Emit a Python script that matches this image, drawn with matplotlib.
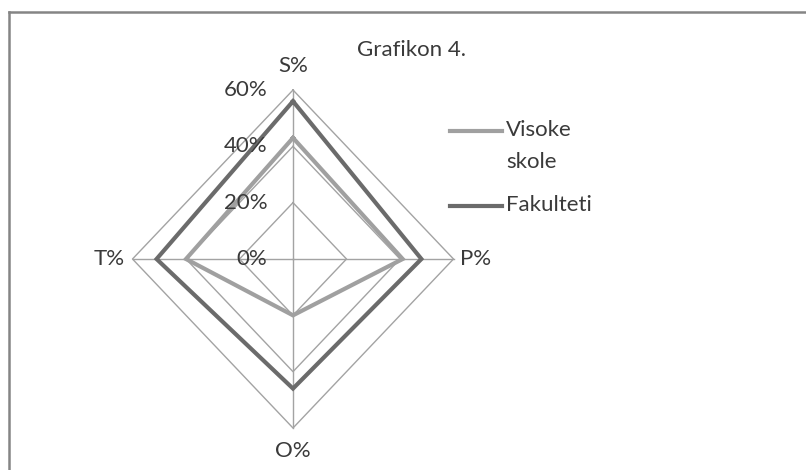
import matplotlib.pyplot as plt
from matplotlib.lines import Line2D

# data (percent)
axes_labels = ["S%", "P%", "O%", "T%"]
visoke_skole = [43, 41, 20, 40]
fakulteti = [56, 48, 46, 51]
grid_levels = [0, 20, 40, 60]
tick_labels = ["0%", "20%", "40%", "60%"]

# direction of each spoke: S up, P right, O down, T left
directions = [(0, 1), (1, 0), (0, -1), (-1, 0)]

GRID_COLOR = "#a3a3a3"
LIGHT = "#a0a0a0"
DARK = "#6b6b6b"
TEXT = "#3a3a3a"
FS = 16

plt.rcParams["font.family"] = ["Lato", "DejaVu Sans"]

W, H = 806, 470
fig = plt.figure(figsize=(W / 100, H / 100), dpi=100)

# center of the radar and radius (pixels) for 60%
cx, cy = 293, 259
rx, ry = 160.5, 169
ax = fig.add_axes([(cx - rx) / W, (H - cy - ry) / H, 2 * rx / W, 2 * ry / H])
ax.set_xlim(-60, 60)
ax.set_ylim(-60, 60)
ax.axis("off")


def polygon(values):
    xs = [d[0] * v for d, v in zip(directions, values)]
    ys = [d[1] * v for d, v in zip(directions, values)]
    return xs + xs[:1], ys + ys[:1]


# grid diamonds
for level in grid_levels[1:]:
    xs, ys = polygon([level] * 4)
    ax.plot(xs, ys, color=GRID_COLOR, lw=1.0, clip_on=False, zorder=1)

# spokes
for dx, dy in directions:
    ax.plot([0, dx * 60], [0, dy * 60], color=GRID_COLOR, lw=1.0, clip_on=False, zorder=1)

# series
xs, ys = polygon(visoke_skole)
ax.plot(xs, ys, color=LIGHT, lw=3.0, clip_on=False, zorder=3, solid_joinstyle="miter")
xs, ys = polygon(fakulteti)
ax.plot(xs, ys, color=DARK, lw=3.0, clip_on=False, zorder=4, solid_joinstyle="miter")

# radial tick labels
for level, lab in zip(grid_levels, tick_labels):
    ax.text(-9.5, level, lab, ha="right", va="center", fontsize=FS, color=TEXT, zorder=5)

# spoke labels
ax.text(0, 68.5, axes_labels[0], ha="center", va="center", fontsize=FS, color=TEXT)
ax.text(62.5, 0, axes_labels[1], ha="left", va="center", fontsize=FS, color=TEXT)
ax.text(0, -68, axes_labels[2], ha="center", va="center", fontsize=FS, color=TEXT)
ax.text(-63, 0, axes_labels[3], ha="right", va="center", fontsize=FS, color=TEXT)

# title
fig.text(357 / W, 1 - 50 / H, "Grafikon 4.", ha="left", va="center", fontsize=FS, color=TEXT)

# legend drawn by hand so the line sits next to the first text line
fig.add_artist(Line2D([450 / W, 502 / W], [1 - 131 / H] * 2, color=LIGHT, lw=3.0))
fig.text(506 / W, 1 - 130 / H, "Visoke", ha="left", va="center", fontsize=FS, color=TEXT)
fig.text(506 / W, 1 - 162 / H, "skole", ha="left", va="center", fontsize=FS, color=TEXT)
fig.add_artist(Line2D([450 / W, 502 / W], [1 - 206 / H] * 2, color=DARK, lw=3.0))
fig.text(506 / W, 1 - 205 / H, "Fakulteti", ha="left", va="center", fontsize=FS, color=TEXT)

# chart frame (only top and left edges are visible in the crop)
fig.add_artist(Line2D([9 / W, 1], [1 - 12 / H] * 2, color="#858585", lw=1.8))
fig.add_artist(Line2D([9 / W, 9 / W], [0, 1 - 12 / H], color="#858585", lw=1.8))

fig.savefig("out.png", dpi=100, facecolor="white")
